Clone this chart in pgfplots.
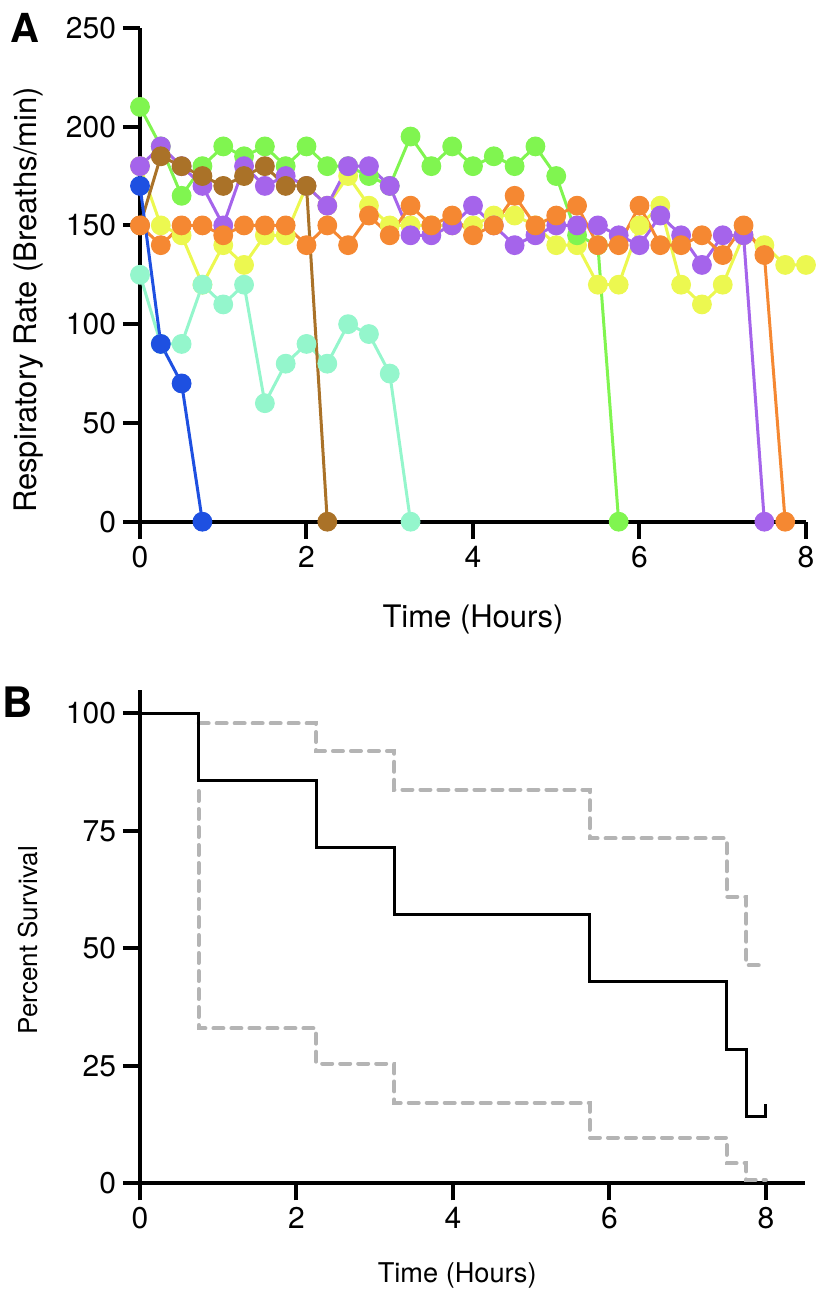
\documentclass[border=0pt]{standalone}
\usepackage{fontspec}
\setmainfont{TeX Gyre Heros}
\usepackage{pgfplots}
\pgfplotsset{compat=1.18}
\definecolor{cyel}{RGB}{236,248,80}
\definecolor{cmint}{RGB}{148,246,204}
\definecolor{cgreen}{RGB}{128,245,80}
\definecolor{cpurp}{RGB}{165,100,235}
\definecolor{cbrown}{RGB}{170,114,40}
\definecolor{corange}{RGB}{245,136,50}
\definecolor{cblue}{RGB}{30,80,225}
\definecolor{cgrey}{RGB}{180,180,180}
\pgfplotsset{
  common/.style={
    scale only axis, clip=false,
    axis x line*=bottom, axis y line*=left,
    axis line style={line width=2pt},
    tick align=outside, major tick length=8.5pt,
    every tick/.style={line width=2pt, black},
    /pgf/number format/assume math mode=true,
    tick label style={font=\fontsize{15}{17}\selectfont},
    xticklabel={\raisebox{-5pt}{\pgfmathprintnumber{\tick}}},
    label style={font=\fontsize{15.5}{18}\selectfont},
  },
  dat/.style={color=#1, line width=1.5pt, mark=*, mark size=4.7pt, mark options={line width=0.5pt, fill=#1}},
}
\begin{document}
\begin{tikzpicture}
\path[use as bounding box] (-70pt,-389.15pt) rectangle (338pt,260.85pt);
\begin{axis}[common,
  at={(0,0)}, anchor=south west,
  width=333pt, height=246.9pt,
  xmin=0, xmax=8, ymin=0, ymax=250,
  xtick={0,2,4,6,8}, ytick={0,50,100,150,200,250},
  xlabel={Time (Hours)}, ylabel={Respiratory Rate (Breaths/min)},
  xlabel style={at={(axis description cs:0.5,-0.199)}, anchor=center},
  ylabel style={at={(axis description cs:-0.168,0.449)}, anchor=center},
]
% yellow
\addplot[dat=cyel] coordinates {(0,180)(0.25,150)(0.5,145)(0.75,120)(1,140)(1.25,130)(1.5,145)(1.75,145)(2,170)(2.25,160)(2.5,175)(2.75,160)(3,150)(3.25,150)(3.5,150)(3.75,150)(4,150)(4.25,155)(4.5,155)(4.75,150)(5,140)(5.25,140)(5.5,120)(5.75,120)(6,150)(6.25,160)(6.5,120)(6.75,110)(7,120)(7.25,145)(7.5,140)(7.75,130)(8,130)};
% mint
\addplot[dat=cmint] coordinates {(0,125)(0.25,90)(0.5,90)(0.75,120)(1,110)(1.25,120)(1.5,60)(1.75,80)(2,90)(2.25,80)(2.5,100)(2.75,95)(3,75)(3.25,0)};
% green
\addplot[dat=cgreen] coordinates {(0,210)(0.25,190)(0.5,165)(0.75,180)(1,190)(1.25,185)(1.5,190)(1.75,180)(2,190)(2.25,180)(2.5,180)(2.75,175)(3,170)(3.25,195)(3.5,180)(3.75,190)(4,180)(4.25,185)(4.5,180)(4.75,190)(5,175)(5.25,145)(5.5,140)(5.75,0)};
% purple
\addplot[dat=cpurp] coordinates {(0,180)(0.25,190)(0.5,180)(0.75,170)(1,150)(1.25,180)(1.5,170)(1.75,175)(2,170)(2.25,160)(2.5,180)(2.75,180)(3,170)(3.25,145)(3.5,145)(3.75,150)(4,160)(4.25,150)(4.5,140)(4.75,145)(5,150)(5.25,150)(5.5,150)(5.75,145)(6,140)(6.25,155)(6.5,145)(6.75,130)(7,145)(7.25,145)(7.5,0)};
% brown
\addplot[dat=cbrown] coordinates {(0,150)(0.25,185)(0.5,180)(0.75,175)(1,170)(1.25,175)(1.5,180)(1.75,170)(2,170)(2.25,0)};
% orange
\addplot[dat=corange] coordinates {(0,150)(0.25,140)(0.5,150)(0.75,150)(1,145)(1.25,150)(1.5,150)(1.75,150)(2,140)(2.25,150)(2.5,140)(2.75,155)(3,145)(3.25,160)(3.5,150)(3.75,155)(4,145)(4.25,150)(4.5,165)(4.75,150)(5,155)(5.25,160)(5.5,140)(5.75,140)(6,160)(6.25,140)(6.5,140)(6.75,145)(7,135)(7.25,150)(7.5,135)(7.75,0)};
% blue
\addplot[dat=cblue] coordinates {(0,170)(0.25,90)(0.5,70)(0.75,0)};
\node[font=\bfseries\fontsize{20}{22}\selectfont] at (axis description cs:-0.173,1.0) {A};
\end{axis}
\begin{axis}[common,
  at={(0,-330.8pt)}, anchor=south west,
  width=332.5pt, height=246.65pt,
  xmin=0, xmax=8.5, ymin=0, ymax=105,
  xtick={0,2,4,6,8}, ytick={0,25,50,75,100},
  xlabel={Time (Hours)}, ylabel={Percent Survival},
  xlabel style={at={(axis description cs:0.477,-0.186)}, anchor=center, font=\fontsize{13.6}{16}\selectfont},
  ylabel style={at={(axis description cs:-0.168,0.493)}, anchor=center, font=\fontsize{13}{16}\selectfont},
]
\addplot[cgrey, line width=2pt, const plot, line cap=round, dash pattern=on 5pt off 4pt] coordinates {(0.75,97.9)(2.25,92.0)(3.25,83.8)(5.75,73.4)(7.5,61.0)(7.75,46.4)(8.0,46.4)};
\addplot[cgrey, line width=2pt, const plot, line cap=round, dash pattern=on 5pt off 4pt] coordinates {(0.75,83.5)(0.75,33.0)(2.25,25.5)(3.25,17.1)(5.75,9.7)(7.5,4.3)(7.75,0.7)(8.0,0.7)};
\addplot[black, line width=1.5pt, const plot] coordinates {(0,100)(0.75,85.71)(2.25,71.43)(3.25,57.14)(5.75,42.86)(7.5,28.57)(7.75,14.29)(8.0,14.29)(8.0,16.8)};
\node[font=\bfseries\fontsize{21}{23}\selectfont] at (axis description cs:-0.184,0.976) {B};
\end{axis}
\end{tikzpicture}
\end{document}
